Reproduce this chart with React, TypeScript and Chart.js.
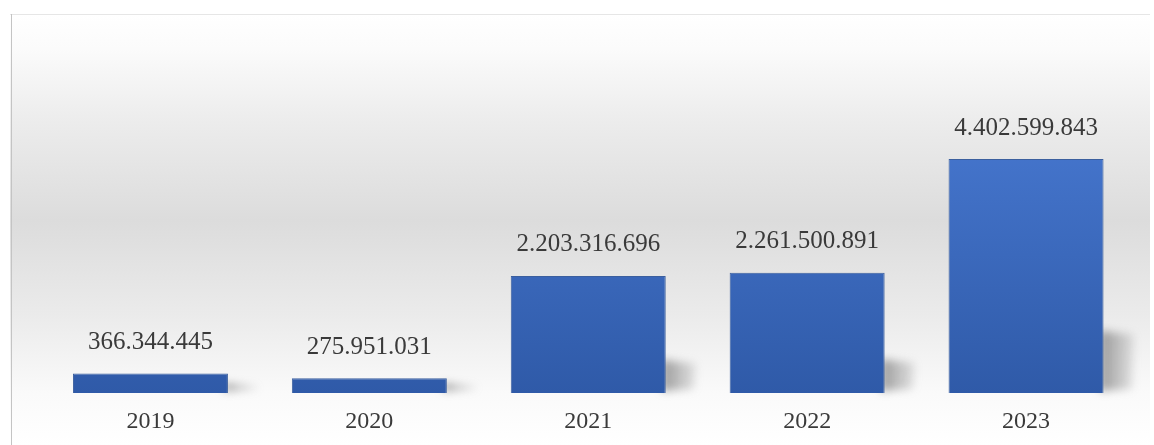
import React, { useEffect, useRef } from "react";
import { Chart, registerables } from "chart.js";

Chart.register(...registerables);

const years = ["2019", "2020", "2021", "2022", "2023"];
const values = [366344445, 275951031, 2203316696, 2261500891, 4402599843];
const yMax = 7000000000;

const fmt = (v: number) => String(v).replace(/\B(?=(\d{3})+(?!\d))/g, ".");

const W = 1154;
const H = 445;

const bgPlugin = {
  id: "bgBox",
  beforeDraw(chart: any) {
    const ctx = chart.ctx;
    ctx.save();
    const top = 14;
    const left = 10;
    const right = 1150;
    const g = ctx.createLinearGradient(0, top, 0, H);
    g.addColorStop(0, "#ffffff");
    g.addColorStop(0.08, "#fbfbfb");
    g.addColorStop(0.25, "#ececec");
    g.addColorStop(0.48, "#dcdcdc");
    g.addColorStop(0.7, "#ebebeb");
    g.addColorStop(0.88, "#fafafa");
    g.addColorStop(1, "#ffffff");
    ctx.fillStyle = g;
    ctx.fillRect(left, top, right - left, H - top);
    ctx.strokeStyle = "#e6e6e6";
    ctx.lineWidth = 1;
    ctx.beginPath();
    ctx.moveTo(left, top + 0.5);
    ctx.lineTo(right, top + 0.5);
    ctx.stroke();
    ctx.strokeStyle = "#c4c4c4";
    ctx.beginPath();
    ctx.moveTo(left + 1.5, top);
    ctx.lineTo(left + 1.5, H);
    ctx.stroke();
    ctx.restore();
  },
  beforeDatasetsDraw(chart: any) {
    const ctx = chart.ctx;
    const meta = chart.getDatasetMeta(0);
    ctx.save();
    ctx.filter = "blur(4px)";
    meta.data.forEach((bar: any) => {
      const right = bar.x + bar.width / 2;
      const bottom = bar.base;
      const h = bar.base - bar.y;
      const sh = Math.max(h * 0.25, 6);
      const g = ctx.createLinearGradient(right, 0, right + 32, 0);
      g.addColorStop(0, "rgba(90,90,90,0.55)");
      g.addColorStop(1, "rgba(120,120,120,0.15)");
      ctx.fillStyle = g;
      ctx.beginPath();
      ctx.moveTo(right - 4, bottom - 2);
      ctx.lineTo(right + 28, bottom - 4);
      ctx.lineTo(right + 30, bottom - sh);
      ctx.lineTo(right - 4, bottom - sh - 4);
      ctx.closePath();
      ctx.fill();
    });
    ctx.restore();
  },
  afterDatasetsDraw(chart: any) {
    const ctx = chart.ctx;
    const meta = chart.getDatasetMeta(0);
    ctx.save();
    ctx.font = '25px "Liberation Serif", serif';
    ctx.fillStyle = "#3a3a3a";
    ctx.textAlign = "center";
    ctx.textBaseline = "middle";
    meta.data.forEach((bar: any, i: number) => {
      ctx.fillText(fmt(values[i]), bar.x, bar.y - 31);
    });
    ctx.restore();
  },
};

export default function App() {
  const ref = useRef<HTMLCanvasElement>(null);
  useEffect(() => {
    if (!ref.current) return;
    const chart = new Chart(ref.current, {
      type: "bar",
      data: {
        labels: years,
        datasets: [
          {
            data: values,
            backgroundColor: (c: any) => {
              const area = c.chart.chartArea;
              if (!area) return "#3a66bd";
              const g = c.chart.ctx.createLinearGradient(0, area.top + 130, 0, area.bottom);
              g.addColorStop(0, "#4474cb");
              g.addColorStop(1, "#2f5aa8");
              return g;
            },
            borderColor: "rgba(40,80,150,0.9)",
            borderWidth: 1,
            barPercentage: 0.708,
            categoryPercentage: 1,
          },
        ],
      },
      options: {
        animation: false,
        responsive: false,
        devicePixelRatio: 1,
        layout: { padding: { left: 41, right: 18.5, top: 21, bottom: 0 } },
        plugins: { legend: { display: false }, tooltip: { enabled: false } },
        scales: {
          y: { display: false, min: 0, max: yMax },
          x: {
            grid: { display: false, drawTicks: false },
            border: { display: false },
            ticks: {
              color: "#3a3a3a",
              font: { family: '"Liberation Serif", serif', size: 24 },
              padding: 14,
            },
            afterFit(scale: any) {
              scale.height = 52;
            },
          },
        },
      },
      plugins: [bgPlugin],
    });
    return () => chart.destroy();
  }, []);
  return (
    <div style={{ position: "fixed", left: 0, top: 0, width: W, height: H, background: "#fff" }}>
      <canvas ref={ref} width={W} height={H} style={{ width: W, height: H, display: "block" }} />
    </div>
  );
}
